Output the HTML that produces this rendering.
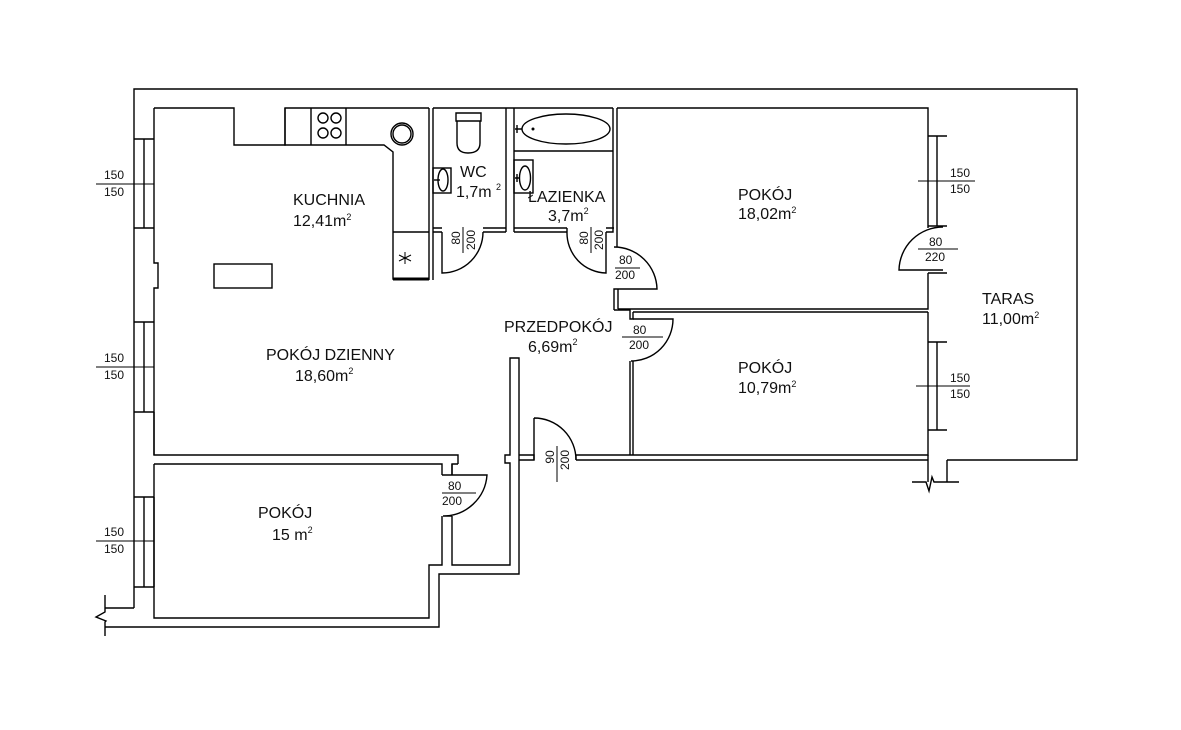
<!DOCTYPE html>
<html><head><meta charset="utf-8"><style>
html,body{margin:0;padding:0;background:#fff;}
svg{display:block;}
text{font-family:"Liberation Sans",Arial,sans-serif;fill:#111;}
.r{font-size:16px;}
.l{font-size:12px;}
</style></head><body>
<svg width="1181" height="730" viewBox="0 0 1181 730" xmlns="http://www.w3.org/2000/svg">
<g fill="none" stroke="#000" stroke-width="1.4">
<!-- outer top -->
<path d="M134 608 V89 H1077 V460 H947"/>
<path d="M134 608 H105"/>
<!-- left break -->
<path d="M105 595 V612 L96 617 L106 621 L105 622 V636"/>
<path d="M105 627 H439 V574 H519 V358 H510 V455 H505 V463 H510 V565 H452 V516"/>
<!-- inner left wall -->
<path d="M154 108 V139 M154 228 V263 H158 V288 H154 V322 M154 412 V455 H458 V464 M154 455"/>
<path d="M154 412 V455"/>
<!-- windows left -->
<path d="M134 139 H154 M144 139 V228 M134 228 H154 M154 139 V228"/>
<path d="M134 322 H154 M144 322 V412 M134 412 H154 M154 322 V412"/>
<path d="M134 497 H154 M144 497 V587 M134 587 H154 M154 497 V587"/>
<!-- pokoj 15 -->
<path d="M154 464 H442 V475 M442 516 V565 H429 V618 H154 V464"/>
<path d="M458 464 H452 V475"/>
<!-- kitchen -->
<path d="M154 108 H234 V145 H285 V108 H429"/>
<path d="M285 108 V145 H384 L393 152 V279 H429 M311 108 V145 M346 108 V145"/>
<path d="M393 232 H429"/>
<path d="M393 279 H429" stroke-width="3"/>
<path d="M429 108 V280 M433 108 V228 H442 M433 232 H442 M433 228 V280"/>
<circle cx="323" cy="118" r="5"/><circle cx="336" cy="118" r="5"/>
<circle cx="323" cy="133" r="5"/><circle cx="336" cy="133" r="5"/>
<circle cx="402" cy="134" r="11"/><circle cx="402" cy="134" r="9"/>
<path d="M405 252 V264 M399 255 L411 261 M399 261 L411 255" stroke-width="1"/>
<rect x="214" y="264" width="58" height="24"/>
<!-- WC -->
<path d="M433 108 H613 M506 108 V232 M514 108 V232 M483 228 H506 M483 232 H506"/>
<path d="M456 113 H481 V121 H456 Z M457 121 V143 Q457 153 468 153 Q480 153 480 143 V121"/>
<rect x="433" y="168" width="18" height="25"/>
<ellipse cx="443" cy="180" rx="5" ry="11"/>
<path d="M434 180 H440"/>
<!-- WC door -->
<path d="M442 232 V273 A41 41 0 0 0 483 232"/>
<!-- bath -->
<path d="M514 151 H613"/>
<ellipse cx="566" cy="129" rx="44" ry="15"/>
<path d="M515 129 H522 M517 125 V133"/>
<circle cx="533" cy="129" r="0.8"/>
<rect x="514" y="160" width="19" height="33"/>
<ellipse cx="525" cy="178" rx="5.5" ry="12"/>
<path d="M515 178 H520 M517 174 V182"/>
<path d="M514 228 H567 M514 232 H567 M567 228 V232 M606 228 H614"/>
<path d="M606 232 V273 A40 40 0 0 1 567 232"/>
<path d="M613 108 V232 H606 M617 108 V247"/>
<!-- door to pokoj 18 -->
<path d="M614 247 A43 43 0 0 1 657 289 H614 V310 M618 289 V309"/>
<!-- pokoj 18 -->
<path d="M617 108 H928 V136 M928 226 V228 M928 273 V309 H618"/>
<path d="M928 136 H947 M937 136 V226 M928 226 H947 M928 136 V226"/>
<path d="M943 270 H899 A44 44 0 0 1 943 227"/>
<path d="M928 273 H947"/>
<path d="M614 310 H630 V319 M633 312 H928 M630 312 V319 H633 V312"/>
<!-- door pokoj 10.79 -->
<path d="M633 319 H673 A42 42 0 0 1 631 361"/>
<path d="M630 361 V455 M633 361 V455"/>
<path d="M633 455 H928 V430 M928 342 V312"/>
<path d="M928 342 H947 M937 342 V430 M928 430 H947 M928 342 V430"/>
<path d="M928 455 V482 M947 460 V482 M912 482 H926 L929 491 L932 477 L934 482 H959"/>
<path d="M519 455 H534 V460 H519 M576 455 H633 M576 460 H928 M576 455 V460"/>
<path d="M534 418 V460 M534 418 A42 42 0 0 1 576 460"/>
<!-- pokoj 15 door -->
<path d="M442 475 H487 A44 44 0 0 1 443 516 H452 M452 475 V464"/>
</g>
<g stroke="#000" stroke-width="1">
<path d="M96 184 H154 M96 367 H154 M96 541 H154"/>
<path d="M918 181 H975 M918 249 H958 M916 386 H970"/>
<path d="M463 227 V253 M591 227 V253 M557 446 V482"/>
<path d="M615 268 H640 M622 337 H663 M442 493 H476"/>
</g>
<g class="l">
<text x="104" y="179">150</text><text x="104" y="196">150</text>
<text x="104" y="362">150</text><text x="104" y="379">150</text>
<text x="104" y="536">150</text><text x="104" y="553">150</text>
<text x="950" y="177">150</text><text x="950" y="193">150</text>
<text x="950" y="382">150</text><text x="950" y="398">150</text>
<text x="929" y="246">80</text><text x="925" y="261">220</text>
<text x="619" y="264">80</text><text x="615" y="279">200</text>
<text x="633" y="334">80</text><text x="629" y="349">200</text>
<text x="448" y="490">80</text><text x="442" y="505">200</text>
<text transform="translate(460,238) rotate(-90)" text-anchor="middle">80</text>
<text transform="translate(475,240) rotate(-90)" text-anchor="middle">200</text>
<text transform="translate(588,238) rotate(-90)" text-anchor="middle">80</text>
<text transform="translate(603,240) rotate(-90)" text-anchor="middle">200</text>
<text transform="translate(554,457) rotate(-90)" text-anchor="middle">90</text>
<text transform="translate(569,460) rotate(-90)" text-anchor="middle">200</text>
</g>
<g class="r">
<text x="293" y="205">KUCHNIA</text>
<text x="293" y="226">12,41m<tspan font-size="9" dy="-6">2</tspan></text>
<text x="460" y="177">WC</text>
<text x="456" y="197">1,7m <tspan font-size="9" dy="-7">2</tspan></text>
<text x="528" y="202">ŁAZIENKA</text>
<text x="548" y="221">3,7m<tspan font-size="9" dy="-7">2</tspan></text>
<text x="738" y="200">POKÓJ</text>
<text x="738" y="219">18,02m<tspan font-size="9" dy="-6">2</tspan></text>
<text x="504" y="332">PRZEDPOKÓJ</text>
<text x="528" y="352">6,69m<tspan font-size="9" dy="-7">2</tspan></text>
<text x="266" y="360">POKÓJ DZIENNY</text>
<text x="295" y="381">18,60m<tspan font-size="9" dy="-7">2</tspan></text>
<text x="738" y="373">POKÓJ</text>
<text x="738" y="393">10,79m<tspan font-size="9" dy="-6">2</tspan></text>
<text x="982" y="304">TARAS</text>
<text x="982" y="324">11,00m<tspan font-size="9" dy="-6">2</tspan></text>
<text x="258" y="518">POKÓJ</text>
<text x="272" y="540">15 m<tspan font-size="9" dy="-7">2</tspan></text>
</g>
</svg>
</body></html>
